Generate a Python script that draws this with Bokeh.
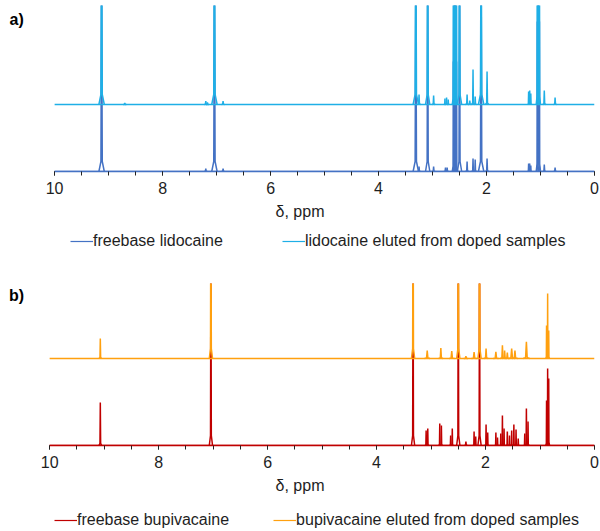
from bokeh.plotting import figure
from bokeh.models import Range1d, SingleIntervalTicker, Legend, LegendItem, Label
from bokeh.layouts import column
from bokeh.embed import file_html
from bokeh.resources import INLINE

FONT = "Liberation Sans"
TXT = "#1e1e1e"

# ---------------- data ----------------
ppm_axis = [10.0, 0.0]          # chemical-shift axis extent (reversed)

# a) lidocaine -----------------------------------------------------------
lido_free_ppm = [9.13, 7.20, 7.04, 6.88, 3.31, 3.25, 3.09, 2.98, 2.76, 2.73,
                 2.615, 2.595, 2.575, 2.555, 2.50, 2.36, 2.25, 2.21, 2.10, 1.99,
                 1.22, 1.20, 1.18, 1.06, 1.04, 1.02, 0.93, 0.73]
lido_free_int = [200, 3, 200, 3, 200, 5, 200, 5, 4, 4,
                 110, 200, 200, 110, 200, 10, 13, 12, 200, 13,
                 8, 8, 6, 150, 200, 150, 7, 4]
lido_free_w = [0.05, 0.03, 0.05, 0.03, 0.05, 0.03, 0.04, 0.03, 0.03, 0.03,
               0.02, 0.02, 0.02, 0.02, 0.04, 0.03, 0.025, 0.025, 0.05, 0.03,
               0.02, 0.02, 0.02, 0.02, 0.03, 0.02, 0.03, 0.03]

lido_elute_ppm = [9.13, 8.70, 7.20, 7.17, 7.04, 6.88, 3.31, 3.25, 3.09, 2.98,
                  2.77, 2.74, 2.71, 2.615, 2.595, 2.575, 2.555, 2.50, 2.36, 2.31,
                  2.25, 2.21, 2.10, 1.99, 1.22, 1.20, 1.18, 1.06, 1.04, 1.02,
                  0.93, 0.73]
lido_elute_int = [200, 1.5, 3.5, 2, 200, 3.5, 200, 10, 200, 9,
                  6, 7, 5, 120, 200, 200, 120, 200, 10, 4,
                  35, 8, 200, 33, 13, 14, 11, 160, 200, 160,
                  14, 7]
lido_elute_w = [0.05, 0.03, 0.03, 0.03, 0.05, 0.03, 0.05, 0.03, 0.04, 0.03,
                0.02, 0.02, 0.02, 0.02, 0.02, 0.02, 0.02, 0.04, 0.03, 0.03,
                0.025, 0.025, 0.05, 0.03, 0.02, 0.02, 0.02, 0.02, 0.03, 0.02,
                0.03, 0.03]
lido_elute_offset = 67

# b) bupivacaine ---------------------------------------------------------
bupi_free_ppm = [9.07, 7.04, 3.33, 3.09, 3.06, 2.84, 2.81, 2.64, 2.61, 2.50,
                 2.36, 2.21, 2.18, 2.11, 1.99, 1.96, 1.81, 1.78, 1.72, 1.69,
                 1.66, 1.60, 1.56, 1.52, 1.48, 1.44, 1.40, 1.28, 1.25, 1.22,
                 0.88, 0.86, 0.84]
bupi_free_int = [43, 200, 200, 15, 17, 22, 20, 10, 17, 200,
                 4, 14, 9, 200, 21, 13, 13, 8, 12, 30,
                 17, 14, 10, 15, 21, 16, 7, 12, 37, 24,
                 45, 77, 67]
bupi_free_w = [0.025, 0.03, 0.03, 0.02, 0.02, 0.02, 0.02, 0.02, 0.02, 0.03,
               0.03, 0.02, 0.02, 0.03, 0.02, 0.02, 0.02, 0.02, 0.02, 0.02,
               0.02, 0.02, 0.02, 0.02, 0.02, 0.02, 0.02, 0.02, 0.02, 0.02,
               0.015, 0.015, 0.015]

bupi_elute_ppm = [9.07, 7.04, 3.33, 3.07, 2.82, 2.62, 2.50, 2.36, 2.21, 2.11,
                  1.99, 1.81, 1.69, 1.65, 1.60, 1.52, 1.46, 1.25, 0.88, 0.86,
                  0.84]
bupi_elute_int = [20, 200, 200, 8, 10.5, 7.5, 200, 2.3, 6.5, 200,
                  10, 6.7, 13.3, 8, 6, 10, 8, 16.7, 33, 65,
                  28]
bupi_elute_w = [0.025, 0.03, 0.03, 0.05, 0.04, 0.05, 0.03, 0.04, 0.05, 0.03,
                0.04, 0.05, 0.04, 0.04, 0.04, 0.06, 0.05, 0.06, 0.015, 0.015,
                0.015]
bupi_elute_offset = 87

x_ticks_interval = 2
legend_a = ["freebase lidocaine", "lidocaine eluted from doped samples"]
legend_b = ["freebase bupivacaine", "bupivacaine eluted from doped samples"]
axis_title = "δ, ppm"


def spectrum(ppm, inten, width, base):
    xs = [list(ppm_axis)]
    ys = [[base, base]]
    for c, h, w in zip(ppm, inten, width):
        xs.append([c + w, c + 0.25 * w, c, c - 0.25 * w, c - w])
        ys.append([base, base + 0.05 * h, base + h, base + 0.05 * h, base])
    return xs, ys


def make_panel(height, right, top, bottom, x_left, ytop, free, elute, offset,
               colors, letter, letter_xy):
    # x range extends a little past 10 ppm to leave room for the panel letter;
    # the axis itself is bounded to 10..0 ppm
    p = figure(width=600, height=height, x_range=Range1d(x_left, ppm_axis[1]),
               y_range=Range1d(0, ytop), output_backend="svg",
               toolbar_location=None, y_axis_location=None,
               min_border_left=5, min_border_right=right,
               min_border_top=top, min_border_bottom=bottom)
    p.outline_line_color = None
    p.grid.visible = False

    xs1, ys1 = spectrum(*free, 0)
    p.multi_line(xs1, ys1, line_color=colors[0], line_width=1.5)
    xs2, ys2 = spectrum(*elute, offset)
    p.multi_line(xs2, ys2, line_color=colors[1], line_width=1.5)

    ax = p.xaxis[0]
    ax.bounds = (ppm_axis[1], ppm_axis[0])
    ax.ticker = SingleIntervalTicker(interval=x_ticks_interval, num_minor_ticks=4)
    ax.axis_line_color = colors[0]
    ax.axis_line_width = 1.5
    ax.major_tick_in = 0
    ax.major_tick_out = 4
    ax.minor_tick_in = 0
    ax.minor_tick_out = 4
    ax.major_tick_line_color = "#222222"
    ax.minor_tick_line_color = "#222222"
    ax.major_label_standoff = 6
    ax.major_label_text_font = FONT
    ax.major_label_text_font_size = "16px"
    ax.major_label_text_color = TXT
    ax.axis_label = axis_title
    ax.axis_label_standoff = 6
    ax.axis_label_text_font = FONT
    ax.axis_label_text_font_size = "16px"
    ax.axis_label_text_font_style = "normal"
    ax.axis_label_text_color = TXT

    p.add_layout(Label(x=letter_xy[0], y=letter_xy[1], x_units="screen",
                       y_units="screen", text=letter, text_font=FONT,
                       text_font_size="16px", text_font_style="bold",
                       text_color="#000000", text_baseline="middle"))
    return p


def make_legend(height, colors, names, loc, spacing):
    q = figure(width=600, height=height, x_range=Range1d(0, 1),
               y_range=Range1d(0, 1), output_backend="svg",
               toolbar_location=None, x_axis_location=None,
               y_axis_location=None, min_border_left=0, min_border_right=0,
               min_border_top=0, min_border_bottom=0)
    q.outline_line_color = None
    q.grid.visible = False
    # one-point proxies (draw nothing) that carry each series' line style
    r1 = q.line(x=ppm_axis[:1], y=[0], line_color=colors[0], line_width=1.2)
    r2 = q.line(x=ppm_axis[:1], y=[0], line_color=colors[1], line_width=1.2)
    leg = Legend(items=[LegendItem(label=names[0], renderers=[r1]),
                        LegendItem(label=names[1], renderers=[r2])],
                 orientation="horizontal", location=loc,
                 margin=0, padding=0, spacing=spacing,
                 glyph_width=23, glyph_height=20, label_height=20,
                 label_standoff=0, border_line_color=None,
                 background_fill_alpha=0, label_text_font=FONT,
                 label_text_font_size="16px", label_text_color=TXT)
    q.add_layout(leg, "center")
    return q


col_a = ("#4472C4", "#1FAFE6")
col_b = ("#C00000", "#FFA00F")

pa = make_panel(227, 6, 5, 56, 10.91, 166,
                (lido_free_ppm, lido_free_int, lido_free_w),
                (lido_elute_ppm, lido_elute_int, lido_elute_w),
                lido_elute_offset, col_a, "a)", (4, 152))
la = make_legend(30, col_a, legend_a, (65, 6), 59)
pb = make_panel(244, 4, 26, 56, 10.81, 162,
                (bupi_free_ppm, bupi_free_int, bupi_free_w),
                (bupi_elute_ppm, bupi_elute_int, bupi_elute_w),
                bupi_elute_offset, col_b, "b)", (3.5, 150))
lb = make_legend(30, col_b, legend_b, (49, 1), 44)

layout = column(pa, la, pb, lb, spacing=0)
open("out.html", "w").write(file_html(layout, INLINE))
